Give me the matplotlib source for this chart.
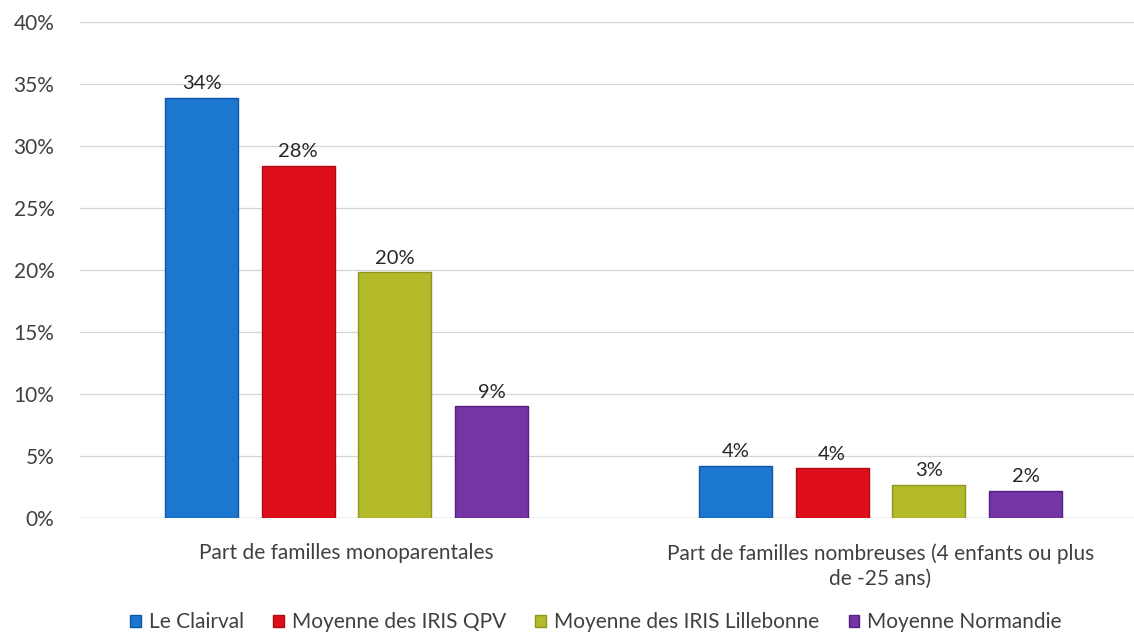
import matplotlib.pyplot as plt
import numpy as np

categories = [
    "Part de familles monoparentales",
    "Part de familles nombreuses (4 enfants ou plus\nde -25 ans)",
]
series = [
    "Le Clairval",
    "Moyenne des IRIS QPV",
    "Moyenne des IRIS Lillebonne",
    "Moyenne Normandie",
]
values = {
    "Le Clairval": [33.9, 4.2],
    "Moyenne des IRIS QPV": [28.4, 4.0],
    "Moyenne des IRIS Lillebonne": [19.8, 2.7],
    "Moyenne Normandie": [9.0, 2.2],
}
labels = {
    "Le Clairval": ["34%", "4%"],
    "Moyenne des IRIS QPV": ["28%", "4%"],
    "Moyenne des IRIS Lillebonne": ["20%", "3%"],
    "Moyenne Normandie": ["9%", "2%"],
}
colors = ["#1c78cf", "#de0f1b", "#b4bb2b", "#7535a6"]
edges = ["#0d56a8", "#b00a12", "#8f9520", "#55207e"]
yticks = [0, 5, 10, 15, 20, 25, 30, 35, 40]

plt.rcParams["font.family"] = ["Lato", "DejaVu Sans"]

fig = plt.figure(figsize=(11.34, 6.35), dpi=100)
ax = fig.add_axes([79.5 / 1134, 1 - 518 / 635, 1068 / 1134, (518 - 22) / 635])

x = np.arange(len(categories))
width = 0.137
step = 0.181
for i, s in enumerate(series):
    pos = x + (i - 1.5) * step
    bars = ax.bar(pos, values[s], width, color=colors[i], edgecolor=edges[i],
                  linewidth=1.0, label=s, zorder=3)
    for b, lab in zip(bars, labels[s]):
        ax.annotate(lab, (b.get_x() + b.get_width() / 2, b.get_height()),
                    xytext=(0, 4), textcoords="offset points",
                    ha="center", va="bottom", fontsize=14.5, color="#262626")

ax.set_xlim(-0.5, 1.5)
ax.set_ylim(0, 40)
ax.set_yticks(yticks)
ax.set_yticklabels(["%d%%" % t for t in yticks], fontsize=15, color="#404040")
ax.set_xticks(x)
ax.set_xticklabels(categories, fontsize=15, color="#404040", linespacing=1.3)
ax.tick_params(axis="both", length=0)
ax.tick_params(axis="y", pad=18)
ax.tick_params(axis="x", pad=18)
ax.yaxis.grid(True, color="#d4d4d4", linewidth=0.9, zorder=0)
ax.axhline(0, color="#c8c8c8", linewidth=1.0, zorder=1)
for sp in ax.spines.values():
    sp.set_visible(False)

handles, leg_labels = ax.get_legend_handles_labels()
fig.legend(handles, leg_labels, loc="center", bbox_to_anchor=(596 / 1134, 1 - 622 / 635),
           ncol=4, frameon=False, fontsize=15, handlelength=0.5, handleheight=0.5,
           handletextpad=0.4, columnspacing=1.4, labelcolor="#404040")

fig.savefig("out.png", dpi=100)
